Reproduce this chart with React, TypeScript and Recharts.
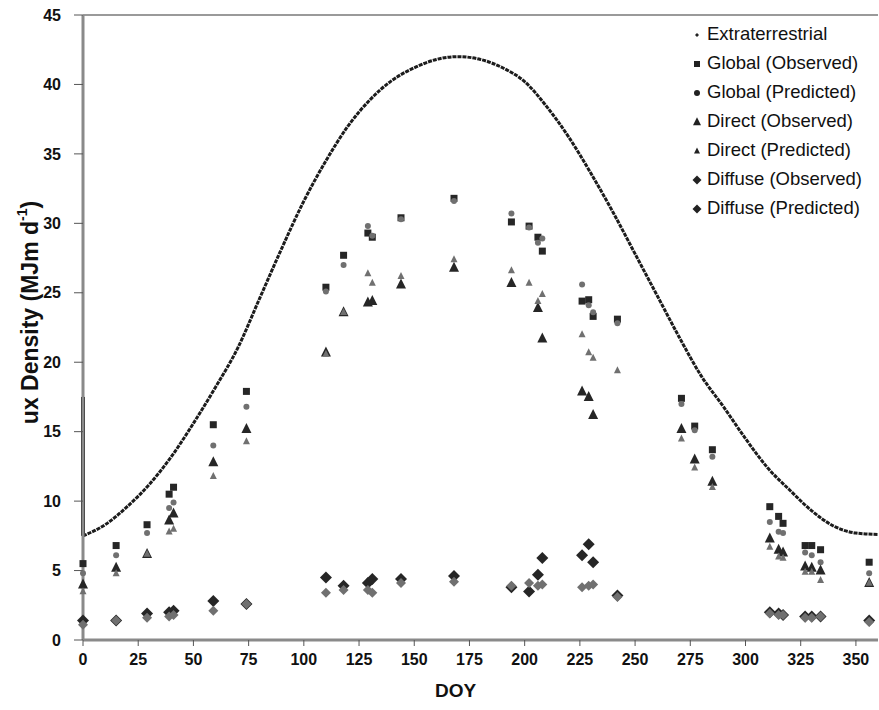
import React from 'react';
import {
  ComposedChart, Line, Scatter, XAxis, YAxis, ReferenceLine
} from 'recharts';

const FONT = '"Liberation Sans", Arial, sans-serif';
const OBS = '#262626';
const PRED = '#707070';

// extraterrestrial radiation (every 10 days)
const extDays = [0, 10, 20, 30, 40, 50, 60, 70, 80, 90, 100, 110, 120, 130, 140, 150, 160, 170, 180,
  190, 200, 210, 220, 230, 240, 250, 260, 270, 280, 290, 300, 310, 320, 330, 340, 350, 360];
const extVals = [7.5, 8.3, 9.6, 11.2, 13.2, 15.6, 18.2, 21.0, 24.6, 28.2, 31.6, 34.5, 37.0, 38.9, 40.3, 41.2, 41.8, 42.0, 41.8,
  41.2, 40.2, 38.4, 36.2, 33.6, 30.8, 27.8, 24.8, 21.8, 19.0, 16.8, 14.5, 12.4, 10.8, 9.3, 8.2, 7.7, 7.6];
// the short vertical stroke on the y axis at day 0
const extEdgeVals = [17.5, 7.5];

// measurement days
const days = [0, 15, 29, 39, 41, 59, 74, 110, 118, 129, 131, 144, 168, 194, 202, 206, 208, 226, 229, 231,
  242, 271, 277, 285, 311, 315, 317, 327, 330, 334, 356];

const globalObs = [5.5, 6.8, 8.3, 10.5, 11.0, 15.5, 17.9, 25.4, 27.7, 29.3, 29.0, 30.4, 31.8, 30.1, 29.8, 29.0, 28.0, 24.4, 24.5, 23.3,
  23.1, 17.4, 15.4, 13.7, 9.6, 8.9, 8.4, 6.8, 6.8, 6.5, 5.6];
const globalPred = [4.8, 6.1, 7.7, 9.5, 9.9, 14.0, 16.8, 25.1, 27.0, 29.8, 29.1, 30.3, 31.6, 30.7, 29.7, 28.6, 28.9, 25.6, 24.1, 23.6,
  22.8, 17.0, 15.1, 13.2, 8.5, 7.8, 7.7, 6.3, 6.1, 5.6, 4.8];
const directObs = [4.0, 5.2, 6.2, 8.6, 9.1, 12.8, 15.2, 20.7, 23.6, 24.3, 24.4, 25.6, 26.8, 25.7, null, 23.9, 21.7, 17.9, 17.5, 16.2,
  null, 15.2, 13.0, 11.4, 7.3, 6.5, 6.3, 5.3, 5.2, 5.0, 4.1];
const directPred = [3.5, 4.8, 6.2, 7.8, 8.0, 11.8, 14.3, 20.6, 23.6, 26.4, 25.7, 26.2, 27.4, 26.6, 25.7, 24.4, 24.9, 22.0, 20.7, 20.3,
  19.4, 14.5, 12.4, 11.0, 6.7, 6.0, 5.9, 4.9, 4.9, 4.3, 4.1];
const diffuseObs = [1.4, 1.4, 1.9, 2.0, 2.1, 2.8, 2.6, 4.5, 3.9, 4.1, 4.4, 4.4, 4.6, 3.8, 3.5, 4.7, 5.9, 6.1, 6.9, 5.6,
  3.2, null, null, null, 2.0, 1.9, 1.8, 1.7, 1.7, 1.7, 1.4];
const diffusePred = [1.1, 1.4, 1.6, 1.7, 1.8, 2.1, 2.6, 3.4, 3.6, 3.6, 3.4, 4.1, 4.2, 3.9, 4.1, 3.9, 4.0, 3.8, 3.9, 4.0,
  3.1, null, null, null, 1.9, 1.8, 1.8, 1.6, 1.6, 1.7, 1.3];

const xTicks = [0, 25, 50, 75, 100, 125, 150, 175, 200, 225, 250, 275, 300, 325, 350];
const yTicks = [0, 5, 10, 15, 20, 25, 30, 35, 40, 45];

const toPoints = (vals: (number | null)[]) =>
  days.flatMap((d, i) => (vals[i] == null ? [] : [{ doy: d, v: vals[i] }]));

const extData = extDays.map((d, i) => ({ doy: d, v: extVals[i] }));
const extEdge = extEdgeVals.map((v) => ({ doy: 0, v }));

const square = (s: number, fill: string) => (p: any) =>
  <rect x={p.cx - s / 2} y={p.cy - s / 2} width={s} height={s} fill={fill} />;
const dot = (r: number, fill: string) => (p: any) =>
  <circle cx={p.cx} cy={p.cy} r={r} fill={fill} />;
const triangle = (s: number, fill: string) => (p: any) =>
  <polygon points={`${p.cx},${p.cy - s * 0.6} ${p.cx + s / 2},${p.cy + s * 0.4} ${p.cx - s / 2},${p.cy + s * 0.4}`} fill={fill} />;
const diamond = (s: number, fill: string) => (p: any) =>
  <polygon points={`${p.cx},${p.cy - s} ${p.cx + s},${p.cy} ${p.cx},${p.cy + s} ${p.cx - s},${p.cy}`} fill={fill} />;

const legendItems = [
  { name: 'Extraterrestrial', mark: diamond(2, '#222') },
  { name: 'Global (Observed)', mark: square(6, '#222') },
  { name: 'Global (Predicted)', mark: dot(3, '#222') },
  { name: 'Direct (Observed)', mark: triangle(8, '#222') },
  { name: 'Direct (Predicted)', mark: triangle(6, '#222') },
  { name: 'Diffuse (Observed)', mark: diamond(4.5, '#222') },
  { name: 'Diffuse (Predicted)', mark: diamond(4.5, '#222') },
];

const YLabel = ({ viewBox }: any) => {
  const x = viewBox.x + 30;
  const y = viewBox.y + viewBox.height / 2 - 15;
  return (
    <text x={x} y={y} transform={`rotate(-90 ${x} ${y})`} textAnchor="middle" dominantBaseline="central"
      fontFamily={FONT} fontWeight="bold" fontSize={23} fill="#111">
      ux Density (MJm d<tspan dy={-8} fontSize={14}>-1</tspan><tspan dy={8}>)</tspan>
    </text>
  );
};

const XLabel = ({ viewBox }: any) => (
  <text x={viewBox.x + viewBox.width / 2 - 25} y={viewBox.y + 57} textAnchor="middle"
    fontFamily={FONT} fontWeight="bold" fontSize={19} fill="#111">DOY</text>
);

const tickStyle = { fontSize: 16, fontWeight: 'bold' as const, fill: '#111', fontFamily: FONT };

export default function App() {
  return (
    <div style={{ position: 'absolute', left: 0, top: 0, width: 879, height: 710, background: '#fff' }}>
      <ComposedChart width={879} height={710} margin={{ top: 15, right: 1, left: 0, bottom: 0 }}>
        <XAxis type="number" dataKey="doy" domain={[0, 360]} ticks={xTicks} interval={0}
          height={70} tick={tickStyle} tickSize={6} tickMargin={8}
          axisLine={{ stroke: '#8a8a8a', strokeWidth: 3 }} tickLine={{ stroke: '#555' }}
          label={<XLabel />} />
        <YAxis type="number" domain={[0, 45]} ticks={yTicks} interval={0} width={83}
          tick={tickStyle} tickSize={9} tickMargin={13}
          axisLine={{ stroke: '#8a8a8a', strokeWidth: 3 }} tickLine={{ stroke: '#555' }}
          label={<YLabel />} />
        <ReferenceLine y={45} stroke="#9a9a9a" strokeWidth={2} />
        <Line data={extEdge} dataKey="v" type="linear" stroke="#111" strokeWidth={4}
          dot={false} isAnimationActive={false} />
        <Line data={extData} dataKey="v" type="monotone" stroke="#1c1c1c" strokeWidth={3}
          strokeDasharray="4 1" dot={false} isAnimationActive={false} />
        <Scatter data={toPoints(globalObs)} dataKey="v" shape={square(7, OBS)} isAnimationActive={false} />
        <Scatter data={toPoints(globalPred)} dataKey="v" shape={dot(3, PRED)} isAnimationActive={false} />
        <Scatter data={toPoints(directObs)} dataKey="v" shape={triangle(10, OBS)} isAnimationActive={false} />
        <Scatter data={toPoints(directPred)} dataKey="v" shape={triangle(7, PRED)} isAnimationActive={false} />
        <Scatter data={toPoints(diffuseObs)} dataKey="v" shape={diamond(6, OBS)} isAnimationActive={false} />
        <Scatter data={toPoints(diffusePred)} dataKey="v" shape={diamond(5, PRED)} isAnimationActive={false} />
      </ComposedChart>
      <div style={{ position: 'absolute', left: 690, top: 19, fontFamily: FONT, fontSize: 18.5, color: '#111', lineHeight: '29px' }}>
        {legendItems.map((it) => (
          <div key={it.name} style={{ display: 'flex', alignItems: 'center', whiteSpace: 'nowrap' }}>
            <svg width={14} height={14} style={{ marginRight: 3 }}>{it.mark({ cx: 7, cy: 8 })}</svg>
            <span>{it.name}</span>
          </div>
        ))}
      </div>
    </div>
  );
}
